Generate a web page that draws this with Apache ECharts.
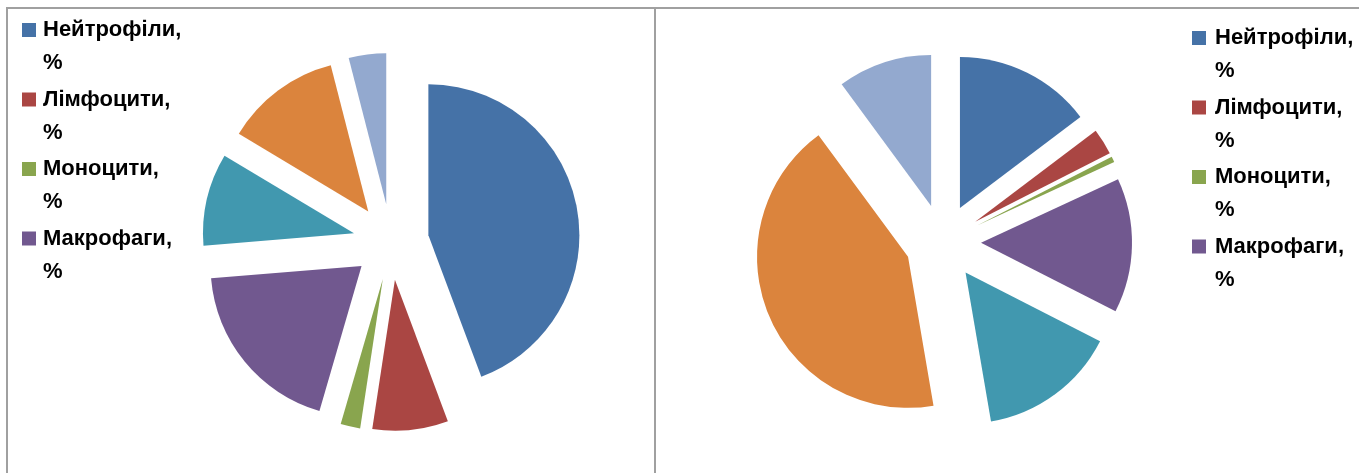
<!DOCTYPE html>
<html>
<head>
<meta charset="utf-8">
<script src="https://cdn.jsdelivr.net/npm/echarts@6/dist/echarts.min.js"></script>
<style>
html,body{margin:0;padding:0;background:#fff;}
#chart{width:1359px;height:473px;}
</style>
</head>
<body>
<div id="chart"></div>
<script>
// Categories (legend shows only the first four, as in the reference)
const categories = ['Нейтрофіли, %', 'Лімфоцити, %', 'Моноцити, %', 'Макрофаги, %', 'Еозинофіли, %', 'Епітеліоцити, %', 'Інші клітини, %'];
const legendNames = ['Нейтрофіли, %', 'Лімфоцити, %', 'Моноцити, %', 'Макрофаги, %'];
// Values (share of each slice, %)
const leftValues = [44.3, 8.1, 2.1, 19.2, 9.9, 12.4, 4.0];
const rightValues = [14.7, 2.8, 0.6, 14.4, 14.8, 42.6, 10.1];
const palette = ['#4572A7', '#AA4643', '#89A54E', '#71588F', '#4198AF', '#DB843D', '#93A9CF'];

const chart = echarts.init(document.getElementById('chart'), null, {renderer: 'canvas'});

function pieData(vals) {
  return categories.map((c, i) => ({name: c, value: vals[i], selected: true}));
}

function makeLegend(left, top, shift) {
  const tok = {
    fontFamily: 'Liberation Sans, Arial, sans-serif',
    fontWeight: 'bold',
    fontSize: 22,
    color: '#000',
    lineHeight: 33,
    padding: [0, 0, 0, shift]
  };
  return {
    data: legendNames,
    orient: 'vertical',
    left: left,
    top: top,
    padding: 0,
    itemWidth: 14,
    itemHeight: 14,
    itemGap: -29.5,
    icon: 'rect',
    selectedMode: false,
    textStyle: {
      fontFamily: tok.fontFamily, fontWeight: 'bold', fontSize: 22, color: '#000', lineHeight: 33,
      rich: {t: tok}
    },
    // blank first line keeps the name on the icon's line and "%" beneath it
    formatter: n => {
      const parts = n.split(', ');
      return '{t| }\n{t|' + parts[0] + ',}\n{t|' + parts[1] + '}';
    }
  };
}

function makePie(center, vals) {
  return {
    type: 'pie',
    center: center,
    radius: 151,
    startAngle: 90,
    clockwise: true,
    selectedMode: 'multiple',
    selectedOffset: 38,
    label: {show: false},
    labelLine: {show: false},
    itemStyle: {borderWidth: 0},
    emphasis: {disabled: true, scale: false},
    data: pieData(vals)
  };
}

const option = {
  animation: false,
  color: palette,
  legend: [makeLegend(22, -19.5, 2), makeLegend(1192, -11.5, 4)],
  graphic: [
    {type: 'line', shape: {x1: 6, y1: 8, x2: 1359, y2: 8}, style: {stroke: '#a0a0a0', lineWidth: 2}, silent: true},
    {type: 'line', shape: {x1: 7, y1: 8, x2: 7, y2: 473}, style: {stroke: '#a0a0a0', lineWidth: 2}, silent: true},
    {type: 'line', shape: {x1: 655, y1: 8, x2: 655, y2: 473}, style: {stroke: '#a0a0a0', lineWidth: 2}, silent: true}
  ],
  series: [
    makePie([391, 242], leftValues),
    makePie([943, 242], rightValues)
  ]
};
chart.setOption(option);
</script>
</body>
</html>
